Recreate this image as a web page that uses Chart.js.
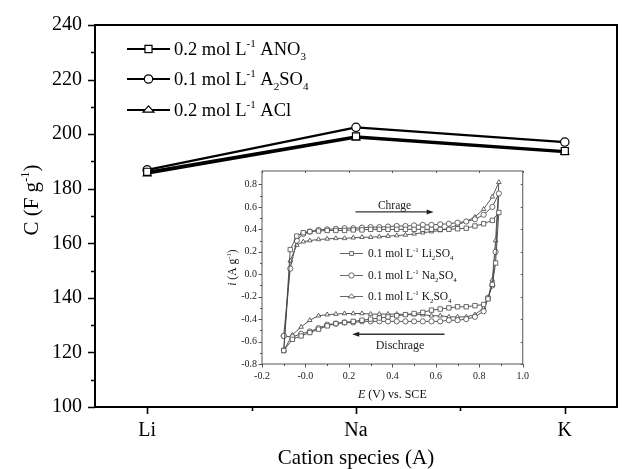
<!DOCTYPE html>
<html>
<head>
<meta charset="utf-8">
<script src="https://cdn.jsdelivr.net/npm/chart.js@4/dist/chart.umd.min.js"></script>
<style>
  body { margin: 0; background: #fff; }
  #wrap { position: relative; width: 625px; height: 469px; }
  #main { position: absolute; left: 0; top: 0; }
  #inset { position: absolute; left: 215px; top: 160px; }
</style>
</head>
<body>
<div id="wrap">
  <canvas id="main" width="625" height="469"></canvas>
  <canvas id="inset" width="320" height="250"></canvas>
</div>
<script>
// main plot: specific capacitance vs cation
const categories = ["Li", "Na", "K"];
const capNO3 = [186.2, 199.2, 193.8];
const capSO4 = [186.9, 202.5, 197.1];
const capCl = [185.5, 198.7, 193.4];

// inset: CV curves, charge branch then discharge branch
const chargeE = [-0.1, -0.07, -0.04, -0.01, 0.02, 0.06, 0.10, 0.14, 0.18, 0.22, 0.26, 0.30, 0.34, 0.38, 0.42, 0.46, 0.50, 0.54, 0.58, 0.62, 0.66, 0.70, 0.74, 0.78, 0.82, 0.86, 0.89];
const dischargeE = [0.875, 0.86, 0.84, 0.82, 0.78, 0.74, 0.70, 0.66, 0.62, 0.58, 0.54, 0.50, 0.46, 0.42, 0.38, 0.34, 0.30, 0.26, 0.22, 0.18, 0.14, 0.10, 0.06, 0.02, -0.02, -0.06, -0.1];

const liCharge = [-0.68, 0.22, 0.34, 0.37, 0.38, 0.385, 0.39, 0.39, 0.39, 0.395, 0.395, 0.40, 0.40, 0.40, 0.40, 0.40, 0.40, 0.40, 0.40, 0.40, 0.40, 0.405, 0.41, 0.43, 0.45, 0.48, 0.55];
const liDischarge = [0.10, -0.09, -0.22, -0.27, -0.28, -0.29, -0.29, -0.30, -0.31, -0.32, -0.34, -0.35, -0.36, -0.37, -0.38, -0.39, -0.40, -0.41, -0.42, -0.43, -0.44, -0.46, -0.49, -0.52, -0.55, -0.58, -0.68];
const naCharge = [-0.55, 0.05, 0.30, 0.36, 0.38, 0.395, 0.40, 0.405, 0.41, 0.41, 0.415, 0.42, 0.42, 0.425, 0.43, 0.43, 0.435, 0.44, 0.44, 0.445, 0.45, 0.46, 0.47, 0.49, 0.53, 0.60, 0.72];
const naDischarge = [0.20, -0.10, -0.21, -0.33, -0.38, -0.40, -0.41, -0.41, -0.42, -0.42, -0.42, -0.42, -0.42, -0.42, -0.42, -0.42, -0.42, -0.42, -0.43, -0.43, -0.44, -0.45, -0.48, -0.51, -0.53, -0.56, -0.55];
const kCharge = [-0.68, 0.12, 0.26, 0.29, 0.30, 0.31, 0.315, 0.32, 0.32, 0.325, 0.33, 0.33, 0.335, 0.34, 0.345, 0.35, 0.36, 0.37, 0.38, 0.39, 0.41, 0.44, 0.47, 0.51, 0.58, 0.69, 0.82];
const kDischarge = [0.30, -0.05, -0.22, -0.30, -0.36, -0.38, -0.38, -0.38, -0.37, -0.37, -0.36, -0.36, -0.36, -0.355, -0.355, -0.355, -0.355, -0.35, -0.35, -0.35, -0.355, -0.36, -0.37, -0.41, -0.47, -0.54, -0.68];

const serif = '"Liberation Serif", "Times New Roman", serif';

function drawRich(ctx, parts, x, y, size, align) {
  const small = size * 0.6;
  const fontFor = (p) =>
    (p[1] === "i" ? "italic " : "") +
    (p[1] === "sup" || p[1] === "sub" ? small : size) + "px " + serif;
  let w = 0;
  parts.forEach((p) => {
    ctx.font = fontFor(p);
    w += ctx.measureText(p[0]).width;
  });
  let cx = align === "center" ? x - w / 2 : x;
  ctx.textAlign = "left";
  ctx.textBaseline = "alphabetic";
  parts.forEach((p) => {
    ctx.font = fontFor(p);
    const dy = p[1] === "sup" ? -size * 0.45 : p[1] === "sub" ? size * 0.28 : 0;
    ctx.fillText(p[0], cx, y + dy);
    cx += ctx.measureText(p[0]).width;
  });
}

function drawMarker(ctx, style, x, y, r) {
  ctx.beginPath();
  if (style === "rect") {
    const s = r * Math.SQRT1_2;
    ctx.rect(x - s, y - s, 2 * s, 2 * s);
  } else if (style === "triangle") {
    const h = r * 1.5, half = r * 1.3;
    ctx.moveTo(x, y - r);
    ctx.lineTo(x + half, y - r + h);
    ctx.lineTo(x - half, y - r + h);
    ctx.closePath();
  } else {
    ctx.arc(x, y, r, 0, Math.PI * 2);
  }
  ctx.fill();
  ctx.stroke();
}

// frame box plus outward major/minor ticks
const frameTicks = {
  id: "frameTicks",
  beforeDraw(chart, args, o) {
    if (!o.fill) return;
    const { ctx, chartArea: a } = chart;
    ctx.save();
    ctx.fillStyle = o.fill;
    ctx.fillRect(a.left, a.top, a.right - a.left, a.bottom - a.top);
    ctx.restore();
  },
  afterDraw(chart, args, o) {
    const { ctx, chartArea: a } = chart;
    const xs = chart.scales.x, ys = chart.scales.y;
    const mid = (v) => v.slice(1).map((t, i) => (t + v[i]) / 2);
    const majorX = xs.ticks.map((t) => t.value);
    const majorY = ys.ticks.map((t) => t.value);
    ctx.save();
    ctx.strokeStyle = o.color;
    ctx.lineWidth = o.lineWidth;
    ctx.strokeRect(a.left, a.top, a.right - a.left, a.bottom - a.top);
    ctx.lineWidth = o.tickWidth;
    ctx.beginPath();
    const tx = (vals, len, inner) => vals.forEach((v) => {
      const p = Math.round(xs.getPixelForValue(v)) + 0.5;
      ctx.moveTo(p, a.bottom); ctx.lineTo(p, a.bottom + len);
      if (inner) { ctx.moveTo(p, a.top); ctx.lineTo(p, a.top + inner); }
    });
    const ty = (vals, len, inner) => vals.forEach((v) => {
      const p = Math.round(ys.getPixelForValue(v)) + 0.5;
      ctx.moveTo(a.left, p); ctx.lineTo(a.left - len, p);
      if (inner) { ctx.moveTo(a.right, p); ctx.lineTo(a.right - inner, p); }
    });
    tx(majorX, o.major, o.inner);
    tx(mid(majorX), o.minor, 0);
    ty(majorY, o.major, o.inner);
    ty(mid(majorY), o.minor, 0);
    ctx.stroke();
    ctx.restore();
  },
};

const mainLegend = {
  id: "mainLegend",
  afterDraw(chart) {
    const ctx = chart.ctx;
    const rows = [
      ["rect", 55, [["0.2 mol L", ""], ["-1", "sup"], [" ANO", ""], ["3", "sub"]]],
      ["circle", 85, [["0.1 mol L", ""], ["-1", "sup"], [" A", ""], ["2", "sub"], ["SO", ""], ["4", "sub"]]],
      ["triangle", 116, [["0.2 mol L", ""], ["-1", "sup"], [" ACl", ""]]],
    ];
    ctx.save();
    rows.forEach(([style, base, parts]) => {
      const cy = base - 6;
      ctx.strokeStyle = "#000";
      ctx.lineWidth = 2.2;
      ctx.beginPath();
      ctx.moveTo(127, cy); ctx.lineTo(170, cy);
      ctx.stroke();
      ctx.fillStyle = "#fff";
      ctx.lineWidth = 1.2;
      drawMarker(ctx, style, 148.5, cy, style === "rect" ? 5 : 4.2);
      ctx.fillStyle = "#000";
      drawRich(ctx, parts, 174, base, 18.5, "left");
    });
    // rotated y title
    ctx.translate(31, 200);
    ctx.rotate(-Math.PI / 2);
    drawRich(ctx, [["C (F g", ""], ["-1", "sup"], [")", ""]], 0, 7, 21, "center");
    ctx.restore();
  },
};

function pts(xs, ys) {
  return xs.map((x, i) => ({ x: x, y: ys[i] }));
}

function mainSet(label, values, style, radius) {
  return {
    label: label,
    data: values.map((v, i) => ({ x: i + 1, y: v })),
    showLine: true,
    borderColor: "#000",
    borderWidth: 2.2,
    pointStyle: style,
    pointRadius: radius,
    pointBorderWidth: 1.2,
    pointBackgroundColor: "#fff",
    pointBorderColor: "#000",
  };
}

new Chart(document.getElementById("main"), {
  type: "scatter",
  data: {
    datasets: [
      mainSet("ANO3", capNO3, "rect", 5),
      mainSet("A2SO4", capSO4, "circle", 4.2),
      mainSet("ACl", capCl, "triangle", 4.6),
    ],
  },
  options: {
    responsive: false,
    animation: false,
    devicePixelRatio: 1,
    layout: { padding: { top: 18, right: 8, left: 0, bottom: 0 } },
    plugins: {
      legend: { display: false },
      tooltip: { enabled: false },
      frameTicks: { color: "#000", lineWidth: 2, tickWidth: 1.6, major: 7, minor: 4, inner: 0 },
    },
    scales: {
      x: {
        type: "linear",
        min: 0.75,
        max: 3.25,
        afterBuildTicks: (s) => { s.ticks = [1, 2, 3].map((v) => ({ value: v })); },
        afterFit: (s) => { s.height = 62; },
        grid: { display: false, drawTicks: false },
        border: { display: false },
        ticks: {
          callback: (v) => categories[v - 1],
          font: { family: serif, size: 20 },
          color: "#000",
          padding: 12,
          maxRotation: 0,
          autoSkip: false,
        },
        title: {
          display: true,
          text: "Cation species (A)",
          font: { family: serif, size: 21, lineHeight: 1 },
          color: "#000",
          padding: { top: 0, bottom: 0 },
        },
      },
      y: {
        min: 100,
        max: 240,
        afterFit: (s) => { s.width = 95; },
        grid: { display: false, drawTicks: false },
        border: { display: false },
        ticks: {
          stepSize: 20,
          font: { family: serif, size: 20 },
          color: "#000",
          padding: 13,
        },
      },
    },
  },
  plugins: [frameTicks, mainLegend],
});

const insetNotes = {
  id: "insetNotes",
  afterDraw(chart) {
    const ctx = chart.ctx;
    const xs = chart.scales.x, ys = chart.scales.y;
    const a = chart.chartArea;
    ctx.save();
    ctx.fillStyle = "#222";
    ctx.strokeStyle = "#333";
    // arrows
    const arrow = (e0, e1, i) => {
      const x0 = xs.getPixelForValue(e0), x1 = xs.getPixelForValue(e1), y = ys.getPixelForValue(i);
      const dir = Math.sign(x1 - x0);
      ctx.lineWidth = 1.3;
      ctx.beginPath(); ctx.moveTo(x0, y); ctx.lineTo(x1 - dir * 5, y); ctx.stroke();
      ctx.beginPath(); ctx.moveTo(x1, y); ctx.lineTo(x1 - dir * 7, y - 2.5); ctx.lineTo(x1 - dir * 7, y + 2.5); ctx.closePath(); ctx.fill();
    };
    arrow(0.23, 0.59, 0.555);
    arrow(0.64, 0.215, -0.535);
    drawRich(ctx, [["Chrage", ""]], xs.getPixelForValue(0.41), ys.getPixelForValue(0.585), 11.5, "center");
    drawRich(ctx, [["Dischrage", ""]], xs.getPixelForValue(0.435), ys.getPixelForValue(-0.67), 12, "center");

    // legend
    const rows = [
      ["rect", 97, [["0.1 mol L", ""], ["-1", "sup"], [" Li", ""], ["2", "sub"], ["SO", ""], ["4", "sub"]]],
      ["circle", 119, [["0.1 mol L", ""], ["-1", "sup"], [" Na", ""], ["2", "sub"], ["SO", ""], ["4", "sub"]]],
      ["triangle", 140, [["0.1 mol L", ""], ["-1", "sup"], [" K", ""], ["2", "sub"], ["SO", ""], ["4", "sub"]]],
    ];
    rows.forEach(([style, base, parts]) => {
      const cy = base - 3.5;
      ctx.strokeStyle = "#666";
      ctx.lineWidth = 1;
      ctx.beginPath(); ctx.moveTo(125, cy); ctx.lineTo(148, cy); ctx.stroke();
      ctx.fillStyle = "#fff";
      drawMarker(ctx, style, 136.5, cy, 2.7);
      ctx.fillStyle = "#111";
      drawRich(ctx, parts, 153, base, 11.5, "left");
    });

    // axis titles
    drawRich(ctx, [["E", "i"], [" (V) vs. SCE", ""]], (a.left + a.right) / 2, 238, 12, "center");
    ctx.translate(21, (a.top + a.bottom) / 2);
    ctx.rotate(-Math.PI / 2);
    drawRich(ctx, [["i", "i"], [" (A g", ""], ["-1", "sup"], [")", ""]], 0, 0, 11.5, "center");
    ctx.restore();
  },
};

function cvSet(label, charge, discharge, style) {
  return {
    label: label,
    data: pts(chargeE.concat(dischargeE), charge.concat(discharge)),
    showLine: true,
    borderColor: "#444",
    borderWidth: 0.9,
    pointStyle: style,
    pointRadius: style === "rect" ? 3.1 : 2.6,
    pointBorderWidth: 0.8,
    pointBackgroundColor: "#fff",
    pointBorderColor: "#444",
  };
}

new Chart(document.getElementById("inset"), {
  type: "scatter",
  data: {
    datasets: [
      cvSet("Li2SO4", liCharge, liDischarge, "rect"),
      cvSet("Na2SO4", naCharge, naDischarge, "circle"),
      cvSet("K2SO4", kCharge, kDischarge, "triangle"),
    ],
  },
  options: {
    responsive: false,
    animation: false,
    devicePixelRatio: 1,
    layout: { padding: { top: 7, right: 8, left: 0, bottom: 0 } },
    plugins: {
      legend: { display: false },
      tooltip: { enabled: false },
      frameTicks: { color: "#555", lineWidth: 1, tickWidth: 1, major: 3.5, minor: 2, inner: 2, fill: "#fff" },
    },
    scales: {
      x: {
        type: "linear",
        min: -0.2,
        max: 1.0,
        afterFit: (s) => { s.height = 46; },
        grid: { display: false, drawTicks: false },
        border: { display: false },
        ticks: {
          stepSize: 0.2,
          callback: (v) => v.toFixed(1),
          font: { family: serif, size: 10 },
          color: "#222",
          padding: 6,
          maxRotation: 0,
          autoSkip: false,
        },
      },
      y: {
        min: -0.8,
        max: 0.92,
        afterFit: (s) => { s.width = 47; },
        afterBuildTicks: (s) => {
          s.ticks = [-0.8, -0.6, -0.4, -0.2, 0, 0.2, 0.4, 0.6, 0.8].map((v) => ({ value: v }));
        },
        grid: { display: false, drawTicks: false },
        border: { display: false },
        ticks: {
          callback: (v) => v.toFixed(1),
          font: { family: serif, size: 10 },
          color: "#222",
          padding: 5,
        },
      },
    },
  },
  plugins: [frameTicks, insetNotes],
});
</script>
</body>
</html>
